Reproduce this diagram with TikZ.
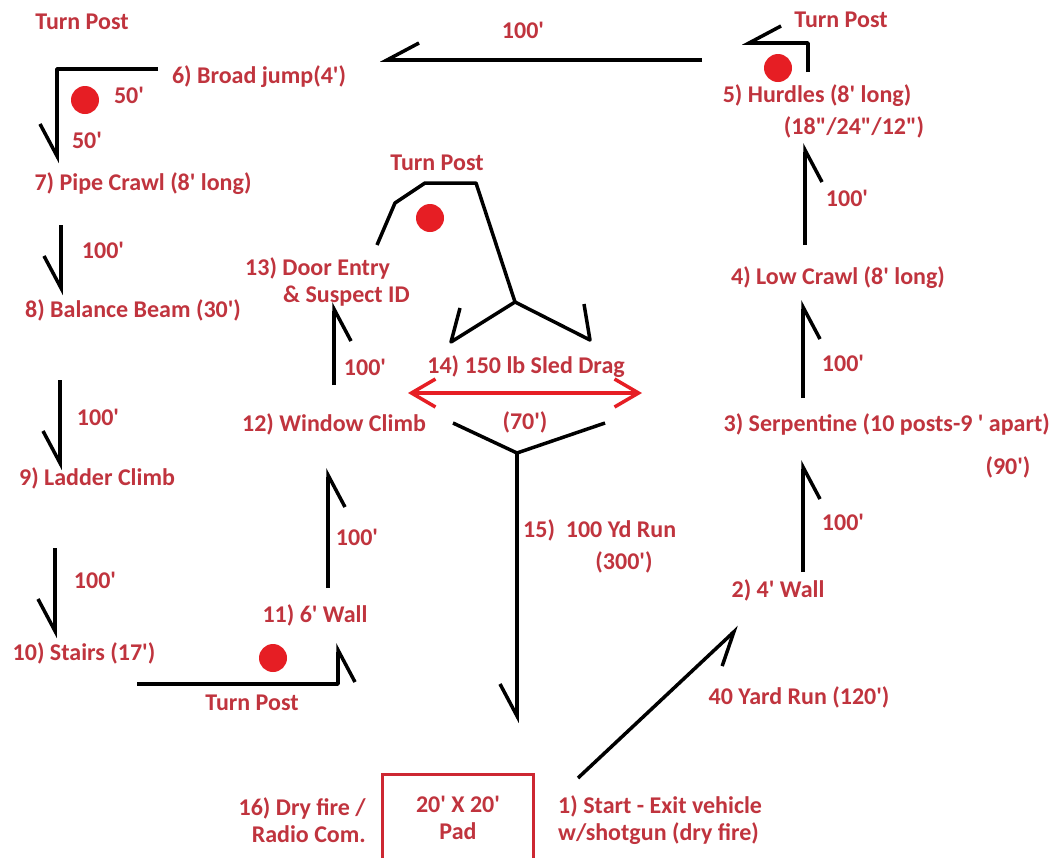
\documentclass[tikz,border=0pt]{standalone}
\usepackage{fontspec}
\setmainfont{Carlito}[Ligatures=TeXOff]
\usetikzlibrary{arrows.meta}

\definecolor{labelred}{RGB}{192,52,62}
\definecolor{postred}{RGB}{230,30,36}
\definecolor{padred}{RGB}{205,40,50}

\tikzset{
  lbl/.style={text=labelred, font=\fontsize{24}{27}\selectfont\bfseries, inner sep=0pt},
  run/.style={line width=3.5pt, line join=round, -{Straight Barb[harpoon,swap,length=32pt,width=34pt]}},
  leg/.style={line width=3.5pt, line join=round},
  post/.style={circle, fill=postred, minimum size=28pt, inner sep=0pt},
  drag/.style={line width=3.5pt, draw=postred,
    {Straight Barb[length=24pt,width=28pt]}-{Straight Barb[length=24pt,width=28pt]}},
  padbox/.style={draw=padred, line width=3pt, minimum width=151pt, minimum height=87pt, align=center}
}

\begin{document}
\begin{tikzpicture}[x=1pt,y=-1pt]
\useasboundingbox[fill=white] (0,0) rectangle (1051,857);

\node[lbl] (tpA) at (82,22) {Turn Post};
\node[lbl] (tpB) at (841,20) {Turn Post};
\node[lbl] (tpC) at (437,163) {Turn Post};
\node[lbl] (tpD) at (252,703) {Turn Post};

\node[post] (postA) at (85,100) {};
\node[post] (postB) at (778,68) {};
\node[post] (postC) at (430,218) {};
\node[post] (postD) at (273,658) {};

\node[lbl] (broad) at (259,77) {6) Broad jump(4')};
\node[lbl] (pipe) at (143,184) {7) Pipe Crawl (8' long)};
\node[lbl] (balance) at (133,310) {8) Balance Beam (30')};
\node[lbl] (ladder) at (97,478) {9) Ladder Climb};
\node[lbl] (stairs) at (84,653) {10) Stairs (17')};
\node[lbl] (wallsix) at (315,615) {11) 6' Wall};
\node[lbl] (window) at (334,424) {12) Window Climb};
\node[lbl, align=left, anchor=west] (door) at (245,282) {13) Door Entry\\\hspace*{38pt}\& Suspect ID};
\node[lbl] (sled) at (526,367) {14) 150 lb Sled Drag};
\node[lbl] (seventy) at (525,422) {(70')};
\node[lbl, anchor=west] (yard) at (523,530) {15)\ \ 100 Yd Run};
\node[lbl] (threehund) at (624,562) {(300')};
\node[lbl] (hurdles) at (817,96) {5) Hurdles (8' long)};
\node[lbl] (heights) at (854,127) {(18"/24"/12")};
\node[lbl] (low) at (838,278) {4) Low Crawl (8' long)};
\node[lbl, anchor=east] (serp) at (1050,424) {3) Serpentine (10 posts-9 ' apart)};
\node[lbl] (ninety) at (1008,467) {(90')};
\node[lbl] (wallfour) at (778,590) {2) 4' Wall};
\node[lbl] (forty) at (799,697) {40 Yard Run (120')};
\node[lbl, align=left, anchor=west] (start) at (558,820) {1) Start - Exit vehicle\\w/shotgun (dry fire)};
\node[lbl, align=right, anchor=east] (dry) at (366,820) {16) Dry fire /\\Radio Com.};
\node[lbl, padbox] (pad) at (458,818) {20' X 20'\\Pad};

\node[lbl] (fiftyA) at (129,95) {50'};
\node[lbl] (fiftyB) at (87,140) {50'};
\foreach \x/\y/\n in {523/30/hTop, 103/250/hA, 98/417/hB, 95/580/hC, 357/537/hD,
    365/367/hE, 847/198/hF, 843/363/hG, 843/522/hH}
  \node[lbl] (\n) at (\x,\y) {100'};

\coordinate (bjE) at (158,69);
\coordinate (bjC) at (57,69);
\coordinate (bjS) at (57,163);
\draw[run] (bjE) -- (bjC) -- (bjS);

\coordinate (topE) at (702,60);
\coordinate (topW) at (380,60);
\draw[run] (topE) -- (topW);

\coordinate (huS) at (808,72);
\coordinate (huC) at (808,43);
\coordinate (huW) at (742,43);
\draw[run] (huS) -- (huC) -- (huW);

\foreach \i/\x/\ya/\yb in {a/61/225/295, b/60/380/470, c/55/548/638,
    d/805/245/143, e/803/398/300, f/803/572/460, g/328/588/468, h/334/385/302} {
  \coordinate (r\i s) at (\x,\ya);
  \coordinate (r\i e) at (\x,\yb);
  \draw[run] (r\i s) -- (r\i e);
}

\coordinate (stA) at (137,684);
\coordinate (stC) at (338,684);
\coordinate (stE) at (338,643);
\draw[run] (stA) -- (stC) -- (stE);

\coordinate (goS) at (578,778);
\coordinate (goE) at (739,627);
\draw[run] (goS) -- (goE);

\coordinate (hkA) at (377,245);
\coordinate (hkB) at (395,203);
\coordinate (hkC) at (425,183);
\coordinate (hkD) at (476,183);
\coordinate (yUp) at (515,302);
\draw[leg] (hkA) -- (hkB) -- (hkC) -- (hkD) -- (yUp);
\coordinate (yLa) at (460,308);
\coordinate (yLb) at (451,342);
\coordinate (yRb) at (590,340);
\coordinate (yRa) at (584,304);
\draw[leg] (yLa) -- (yLb) -- (yUp) -- (yRb) -- (yRa);

\coordinate (sledW) at (408,393);
\coordinate (sledE) at (642,393);
\draw[drag] (sledW) -- (sledE);

\coordinate (yDl) at (453,423);
\coordinate (yDc) at (517,453);
\coordinate (yDr) at (605,423);
\coordinate (runE) at (517,723);
\draw[leg] (yDl) -- (yDc) -- (yDr);
\draw[run] (yDc) -- (runE);
\end{tikzpicture}
\end{document}
